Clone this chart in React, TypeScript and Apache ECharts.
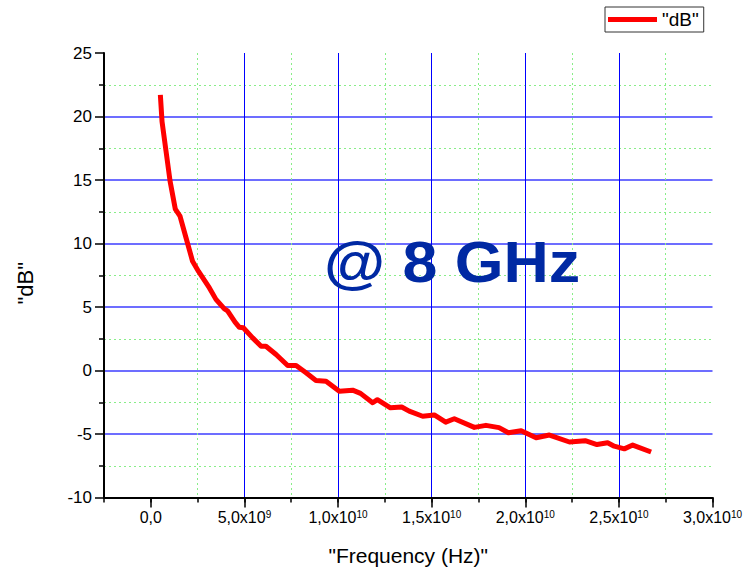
import React, { useEffect, useRef } from "react";
import * as echarts from "echarts";

// Measured attenuation curve: frequency in GHz, level in dB
const FREQ_GHZ = [
  0.51, 0.6, 0.81, 1.03, 1.31, 1.56, 1.88, 2.23, 2.55, 3.13, 3.48, 3.93, 4.1, 4.5, 4.73, 4.94,
  5.44, 5.89, 6.15, 6.69, 7.31, 7.76, 8.29, 8.82, 9.36, 10.07, 10.78, 11.2, 11.85, 12.1, 12.8,
  13.4, 13.8, 14.52, 15.14, 15.75, 16.21, 17.28, 17.9, 18.6, 19.1, 19.78, 20.58, 21.29, 22.36,
  23.2, 23.83, 24.4, 24.75, 25.29, 25.74, 26.72,
];
const LEVEL_DB = [
  21.7, 19.6, 17.3, 14.9, 12.7, 12.15, 10.45, 8.6, 7.8, 6.5, 5.6, 4.85, 4.7, 3.8, 3.4, 3.36,
  2.57, 1.91, 1.91, 1.26, 0.39, 0.39, -0.18, -0.79, -0.84, -1.63, -1.55, -1.8, -2.54, -2.3, -2.94,
  -2.87, -3.2, -3.6, -3.5, -4.07, -3.8, -4.48, -4.32, -4.5, -4.9, -4.74, -5.3, -5.08, -5.63,
  -5.53, -5.83, -5.69, -5.96, -6.17, -5.87, -6.42,
];

const X_MIN = -2.5e9;
const X_MAX = 3.0e10;
const X_MAJOR = [0, 5e9, 1e10, 1.5e10, 2e10, 2.5e10, 3e10];
const X_MINOR_STEP = 2.5e9;
const Y_MIN = -10;
const Y_MAX = 25;
const Y_STEP = 5;

const SERIES_NAME = '"dB"';
const X_TITLE = '"Frequency (Hz)"';
const Y_TITLE = '"dB"';
const NOTE = "@ 8 GHz";

const FONT = '"Liberation Sans", Arial, Helvetica, sans-serif';
const MINOR_GRID = "#88ee88";

// "5,0x10^9" style label with the exponent as a superscript
function sciLabel(v: number): string {
  if (v === 0) return "{m|0,0}";
  const e = Math.floor(Math.log10(Math.abs(v)) + 1e-9);
  const m = (v / Math.pow(10, e)).toFixed(1).replace(".", ",");
  return `{m|${m}x10}{e|${e}}`;
}

export default function App() {
  const ref = useRef<HTMLDivElement>(null);

  useEffect(() => {
    if (!ref.current) return;
    const chart = echarts.init(ref.current, null, { renderer: "svg" });
    const data = FREQ_GHZ.map((f, i) => [f * 1e9, LEVEL_DB[i]]);

    chart.setOption({
      animation: false,
      backgroundColor: "#ffffff",
      textStyle: { fontFamily: FONT },
      grid: { left: 104, right: 37.5, top: 53, bottom: 80.5, containLabel: false },
      legend: {
        left: 605,
        top: 7,
        orient: "horizontal",
        icon: "rect",
        itemWidth: 49,
        itemHeight: 5,
        itemGap: 0,
        padding: [3, 5, 3, 3],
        borderColor: "#333333",
        borderWidth: 1,
        borderRadius: 0,
        backgroundColor: "#ffffff",
        textStyle: { fontFamily: FONT, fontSize: 19, color: "#000000" },
        data: [SERIES_NAME],
      },
      xAxis: [
        {
          // minor grid every 2.5e9; the colour list alternates so that only
          // the in-between positions get a green dotted line
          type: "value",
          position: "bottom",
          z: 0,
          min: X_MIN,
          max: X_MAX,
          interval: X_MINOR_STEP,
          axisLine: { show: false, onZero: false },
          axisTick: { show: true, inside: false, length: 5, lineStyle: { color: "#000", width: 1.5 } },
          axisLabel: { show: false },
          splitLine: {
            show: true,
            lineStyle: { color: [MINOR_GRID, "rgba(0,0,0,0)"], width: 1, type: [2, 3] },
          },
        },
        {
          type: "value",
          position: "bottom",
          z: 2,
          min: X_MIN,
          max: X_MAX,
          axisLine: { show: true, onZero: false, lineStyle: { color: "#000000", width: 2 } },
          axisTick: {
            show: true,
            inside: false,
            length: 10,
            customValues: X_MAJOR,
            lineStyle: { color: "#000", width: 1.5 },
          },
          axisLabel: {
            show: true,
            customValues: X_MAJOR,
            margin: 12,
            color: "#000000",
            formatter: (v: number) => (v < 0 ? "" : sciLabel(v)),
            rich: {
              m: { fontFamily: FONT, fontSize: 16, color: "#000", verticalAlign: "bottom" },
              e: { fontFamily: FONT, fontSize: 10, color: "#000", verticalAlign: "top" },
            },
          },
          splitLine: {
            show: true,
            showMinLine: false,
            showMaxLine: false,
            lineStyle: { color: "#0000ff", width: 1, type: "solid" },
          },
          name: X_TITLE,
          nameLocation: "middle",
          nameGap: 47,
          nameTextStyle: { fontFamily: FONT, fontSize: 21, color: "#000000" },
        },
      ],
      yAxis: {
        type: "value",
        min: Y_MIN,
        max: Y_MAX,
        interval: Y_STEP,
        axisLine: { show: true, onZero: false, lineStyle: { color: "#000000", width: 2 } },
        axisTick: { show: true, inside: false, length: 9, lineStyle: { color: "#000", width: 1.5 } },
        minorTick: { show: true, splitNumber: 2, length: 5, lineStyle: { color: "#000", width: 1.5 } },
        axisLabel: { margin: 12, fontFamily: FONT, fontSize: 17, color: "#000000" },
        splitLine: {
          show: true,
          showMinLine: false,
          showMaxLine: false,
          lineStyle: { color: "#3c3cff", width: 1.5, type: "solid" },
        },
        minorSplitLine: { show: true, lineStyle: { color: MINOR_GRID, width: 1, type: [2, 3] } },
        name: Y_TITLE,
        nameLocation: "middle",
        nameRotate: 90,
        nameGap: 68,
        nameTextStyle: { fontFamily: FONT, fontSize: 22, color: "#000000", padding: [0, 16, 0, 0] },
      },
      graphic: [
        {
          type: "text",
          x: 452,
          y: 262,
          scaleX: 1.1,
          z: 10,
          style: {
            text: NOTE,
            font: `bold 57px ${FONT}`,
            fill: "#0029a3",
            align: "center",
            verticalAlign: "middle",
          },
        },
      ],
      series: [
        {
          name: SERIES_NAME,
          type: "line",
          xAxisIndex: 1,
          data,
          showSymbol: false,
          symbol: "none",
          smooth: false,
          lineStyle: { color: "#ff0000", width: 5, join: "round", cap: "butt" },
          itemStyle: { color: "#ff0000" },
          z: 5,
        },
      ],
    });

    return () => chart.dispose();
  }, []);

  return (
    <div
      ref={ref}
      style={{ position: "fixed", left: 0, top: 0, width: 750, height: 578, background: "#fff" }}
    />
  );
}
